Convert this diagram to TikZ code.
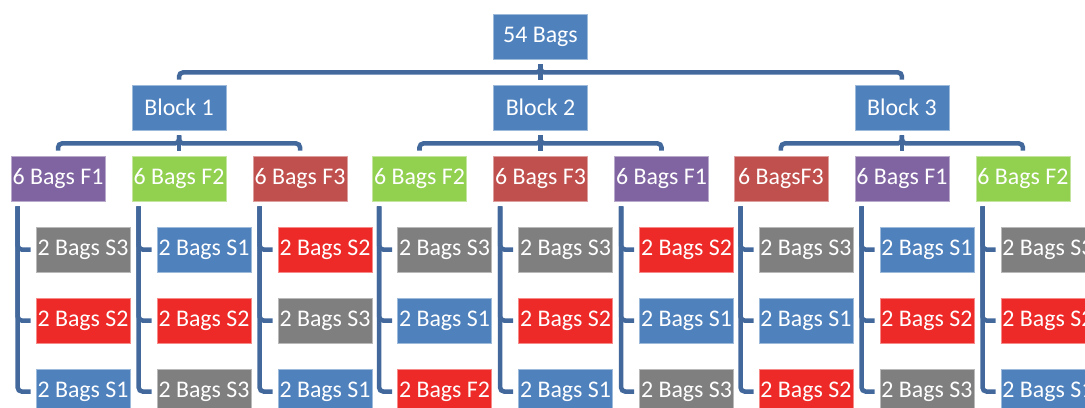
\documentclass[tikz,border=0pt]{standalone}
\usepackage{fontspec}
\setmainfont{Carlito}
\usetikzlibrary{trees}
\definecolor{sblue}{HTML}{4F81BD}
\definecolor{spurple}{HTML}{8064A2}
\definecolor{sgreen}{HTML}{92D050}
\definecolor{sbrown}{HTML}{C0504D}
\definecolor{sred}{HTML}{EE2A29}
\definecolor{sgray}{HTML}{7F7F7F}
\definecolor{linkblue}{HTML}{43699C}
\tikzset{bag/.style={rectangle,fill=#1,draw=#1!55!white,line width=0.6pt,text=white,minimum width=70.5pt,minimum height=33.75pt,inner sep=0pt,font=\fontsize{17.9pt}{21pt}\selectfont}}
\tikzstyle{link}=[draw=linkblue,line width=3.4pt,shorten <=3.75pt,shorten >=3.75pt]

\begin{document}
\begin{tikzpicture}[level distance=53.25pt,
  edge from parent/.style={link},
  edge from parent path={(\tikzparentnode.south) -- ++(0,-9.75pt) -| (\tikzchildnode.north)},
  level 1/.style={sibling distance=271.1pt,edge from parent/.append style={rounded corners=3pt}},
  level 2/.style={sibling distance=90.75pt,edge from parent/.append style={rounded corners=3pt}},
  level 3/.style={grow via three points={one child at (18.75pt,-53.25pt) and two children at (18.75pt,-53.25pt) and (18.75pt,-106.5pt)},
    edge from parent path={([xshift=5.25pt]\tikzparentnode.south west) |- (\tikzchildnode.west)}}]
\useasboundingbox (-405.4pt,27.4pt) rectangle (408.4pt,-278.6pt);
\node [bag=sblue] (bags){54 Bags}
	child {node [bag=sblue] (b1) {Block 1}
		child {node [bag=spurple] (f1) {6 Bags F1}
			child {node [bag=sgray] (s11) {2 Bags S3}}
			child {node [bag=sred] (s12) {2 Bags S2}}
			child {node [bag=sblue] (s13) {2 Bags S1}}
			}
		child {node [bag=sgreen] (f2) {6 Bags F2}
			child {node [bag=sblue] (s21) {2 Bags S1}}
			child {node [bag=sred] (s22) {2 Bags S2}}
			child {node [bag=sgray] (s23) {2 Bags S3}}
			}
		child {node [bag=sbrown] (f3) {6 Bags F3}
			child {node [bag=sred] (s31) {2 Bags S2}}
			child {node [bag=sgray] (s32) {2 Bags S3}}
			child {node [bag=sblue] (s33) {2 Bags S1}}
			}
		}
	child {node [bag=sblue] (b2) {Block 2}
		child {node [bag=sgreen] (f4) {6 Bags F2}
			child {node [bag=sgray] (s41) {2 Bags S3}}
			child {node [bag=sblue] (s42) {2 Bags S1}}
			child {node [bag=sred] (s43) {2 Bags F2}}
			}
		child {node [bag=sbrown] (f5) {6 Bags F3}
			child {node [bag=sgray] (s51) {2 Bags S3}}
			child {node [bag=sred] (s52) {2 Bags S2}}
			child {node [bag=sblue] (s53) {2 Bags S1}}
			}
		child {node [bag=spurple] (f6) {6 Bags F1}
			child {node [bag=sred] (s61) {2 Bags S2}}
			child {node [bag=sblue] (s62) {2 Bags S1}}
			child {node [bag=sgray] (s63) {2 Bags S3}}
			}
		}
	child {node [bag=sblue] (b3) {Block 3}
		child {node [bag=sbrown] (f7) {6 BagsF3}
			child {node [bag=sgray] (s71) {2 Bags S3}}
			child {node [bag=sblue] (s72) {2 Bags S1}}
			child {node [bag=sred] (s73) {2 Bags S2}}
			}
		child {node [bag=spurple] (f8) {6 Bags F1}
			child {node [bag=sblue] (s81) {2 Bags S1}}
			child {node [bag=sred] (s82) {2 Bags S2}}
			child {node [bag=sgray] (s83) {2 Bags S3}}
			}
		child {node [bag=sgreen] (f9) {6 Bags F2}
			child {node [bag=sgray] (s91) {2 Bags S3}}
			child {node [bag=sred] (s92) {2 Bags S2}}
			child {node [bag=sblue] (s93) {2 Bags S1}}
			}
		};
\end{tikzpicture}
\end{document}
